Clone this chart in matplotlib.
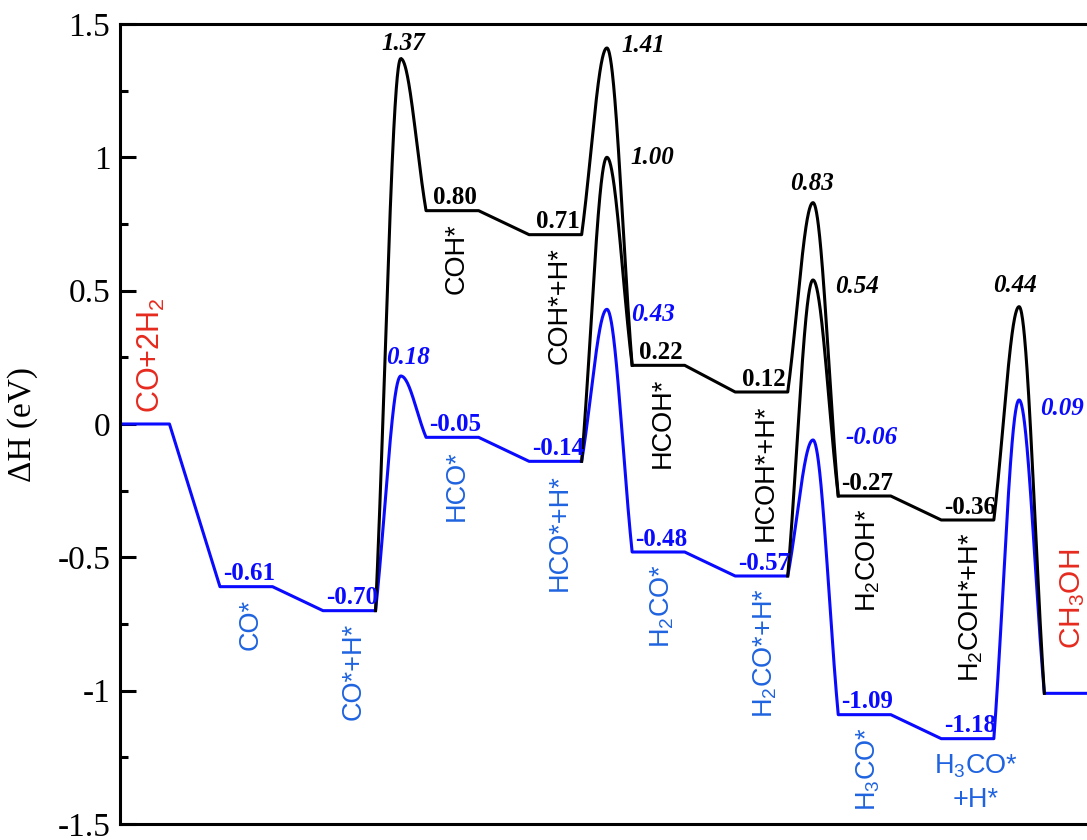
import numpy as np
import matplotlib.pyplot as plt
from matplotlib.ticker import MultipleLocator, FuncFormatter

plt.rcParams['axes.unicode_minus'] = False
plt.rcParams['mathtext.fontset'] = 'custom'
plt.rcParams['mathtext.rm'] = 'Liberation Sans'
plt.rcParams['mathtext.it'] = 'Liberation Sans:italic'
plt.rcParams['mathtext.bf'] = 'Liberation Sans:bold'

# энергии интермедиатов (эВ), шаги 0..9
blue_levels = [0.00, -0.61, -0.70, -0.05, -0.14, -0.48, -0.57, -1.09, -1.18, -1.01]
black_levels = [None, None, -0.70, 0.80, 0.71, 0.22, 0.12, -0.27, -0.36, -1.01]

# переходные состояния: шаг, с которого начинается барьер, и его вершина
blue_ts_steps = [2, 4, 6, 8]
blue_ts = [0.18, 0.43, -0.06, 0.09]
black_ts_steps = [2, 4, 6, 8]
black_ts = [1.37, 1.41, 0.83, 0.44]
# барьеры с ветки HCO на ветку COH
cross_ts_steps = [4, 6]
cross_ts = [1.00, 0.54]

blue_names = ['CO*', 'CO*+H*', 'HCO*', 'HCO*+H*',
              r'H$_\mathrm{2}$CO*', r'H$_\mathrm{2}$CO*+H*', r'H$_\mathrm{3}$CO*']
black_names = ['COH*', 'COH*+H*', 'HCOH*', 'HCOH*+H*',
               r'H$_\mathrm{2}$COH*', r'H$_\mathrm{2}$COH*+H*']

# сдвиги подписей барьеров (в пунктах)
blue_ts_off = [(5, 13), (33, -4), (42, 2), (31, -6)]
black_ts_off = [(2, 11), (26, 2), (-1, 14), (-3, 15)]
cross_ts_off = [(33, 0), (32, -5)]

BLUE = '#0a0aff'
BLUE_TXT = '#1f63e0'
RED = '#e62a1e'
W = 0.51  # ширина горизонтальной полки


def barrier(x0, x1, e0, ets, e1, n=80):
    # гладкий горб от (x0, e0) через вершину ets к (x1, e1)
    xm = (x0 + x1) / 2
    t = np.linspace(0, 1, n)
    f = 0.25 * (1 - np.cos(np.pi * t)) + 0.5 * (1 - (1 - t) ** 2)
    xl = x0 + (xm - x0) * t
    yl = e0 + (ets - e0) * f
    xr = x1 - (x1 - xm) * t
    yr = e1 + (ets - e1) * f
    return np.r_[xl, xr[::-1]], np.r_[yl, yr[::-1]]


fig = plt.figure(figsize=(10.87, 8.40), dpi=100)
ax = fig.add_axes([120 / 1087, 16 / 840, 970.7 / 1087, 800 / 840])

# синяя ветка (через HCO*)
bx, by = [], []
for i, e in enumerate(blue_levels):
    right = i + W if i < len(blue_levels) - 1 else 10
    bx += [i, right]
    by += [e, e]
    if i in blue_ts_steps:
        k = blue_ts_steps.index(i)
        cx, cy = barrier(i + W, i + 1, e, blue_ts[k], blue_levels[i + 1])
        bx += list(cx)
        by += list(cy)
ax.plot(bx, by, color=BLUE, lw=2.2, solid_joinstyle='round', zorder=2)

# чёрная ветка (через COH*)
kx, ky = [], []
for i in range(2, 9):
    e = black_levels[i]
    if i > 2:
        kx += [i, i + W]
        ky += [e, e]
    if i in black_ts_steps:
        k = black_ts_steps.index(i)
        cx, cy = barrier(i + W, i + 1, e, black_ts[k], black_levels[i + 1])
        kx += list(cx)
        ky += list(cy)
ax.plot(kx, ky, color='black', lw=2.2, solid_joinstyle='round', zorder=3)

for s, ets in zip(cross_ts_steps, cross_ts):
    cx, cy = barrier(s + W, s + 1, blue_levels[s], ets, black_levels[s + 1])
    ax.plot(cx, cy, color='black', lw=2.2, zorder=3)

# подписи энергий полок
val_font = dict(family='Liberation Serif', fontweight='bold', fontsize=18)
for i in range(1, 9):
    ax.annotate(f'{blue_levels[i]:.2f}', (i + W / 2, blue_levels[i]),
                xytext=(2, 1), textcoords='offset points',
                ha='center', va='bottom', color=BLUE, **val_font)
for i in range(3, 9):
    ax.annotate(f'{black_levels[i]:.2f}', (i + W / 2, black_levels[i]),
                xytext=(2, 1), textcoords='offset points',
                ha='center', va='bottom', color='black', **val_font)

# подписи переходных состояний
ts_font = dict(family='Liberation Serif', fontweight='bold', fontstyle='italic',
               fontsize=18)
for steps, vals, offs, col in [(blue_ts_steps, blue_ts, blue_ts_off, BLUE),
                               (black_ts_steps, black_ts, black_ts_off, 'black'),
                               (cross_ts_steps, cross_ts, cross_ts_off, 'black')]:
    for s, v, o in zip(steps, vals, offs):
        ax.annotate(f'{v:.2f}', (s + (1 + W) / 2, v), xytext=o,
                    textcoords='offset points', ha='center', va='center',
                    color=col, **ts_font)

# названия интермедиатов
name_font = dict(family='Liberation Sans', fontsize=19.5, rotation=90,
                 ha='center', va='top')
for i, name in enumerate(blue_names, start=1):
    ax.annotate(name, (i + W / 2, blue_levels[i]), xytext=(3, -9),
                textcoords='offset points', color=BLUE_TXT, **name_font)
for i, name in enumerate(black_names, start=3):
    ax.annotate(name, (i + W / 2, black_levels[i]), xytext=(3, -9),
                textcoords='offset points', color='black', **name_font)
ax.annotate('H$_\\mathrm{3}$CO*\n+H*', (8 + W / 2, blue_levels[8]),
            xytext=(6, -10), textcoords='offset points', color=BLUE_TXT,
            family='Liberation Sans', fontsize=19.5, ha='center', va='top',
            linespacing=1.35)

# исходные вещества и продукт
ax.annotate(r'CO+2H$_\mathrm{2}$', (0.34, blue_levels[0]), xytext=(0, 8),
            textcoords='offset points', color=RED, family='Liberation Sans',
            fontsize=22, rotation=90, ha='center', va='bottom')
ax.annotate(r'CH$_\mathrm{3}$OH', (9.27, blue_levels[9]), xytext=(0, 32),
            textcoords='offset points', color=RED, family='Liberation Sans',
            fontsize=21.5, rotation=90, ha='center', va='bottom')

ax.set_xlim(0.03, 9.45)
ax.set_ylim(-1.5, 1.5)
ax.set_xticks([])
ax.yaxis.set_major_locator(MultipleLocator(0.5))
ax.yaxis.set_minor_locator(MultipleLocator(0.25))
ax.yaxis.set_major_formatter(FuncFormatter(lambda v, _: f'{v:g}'))
ax.tick_params(axis='y', which='major', direction='in', length=11.5, width=2.2,
               pad=7, labelsize=24)
ax.tick_params(axis='y', which='minor', direction='in', length=5.8, width=2.2)
for lab in ax.get_yticklabels():
    lab.set_family('Liberation Serif')
for sp in ax.spines.values():
    sp.set_linewidth(2.2)
ax.set_ylabel('ΔH (eV)', family='Liberation Serif', fontsize=24, labelpad=14)

fig.savefig('out.png', dpi=100)
